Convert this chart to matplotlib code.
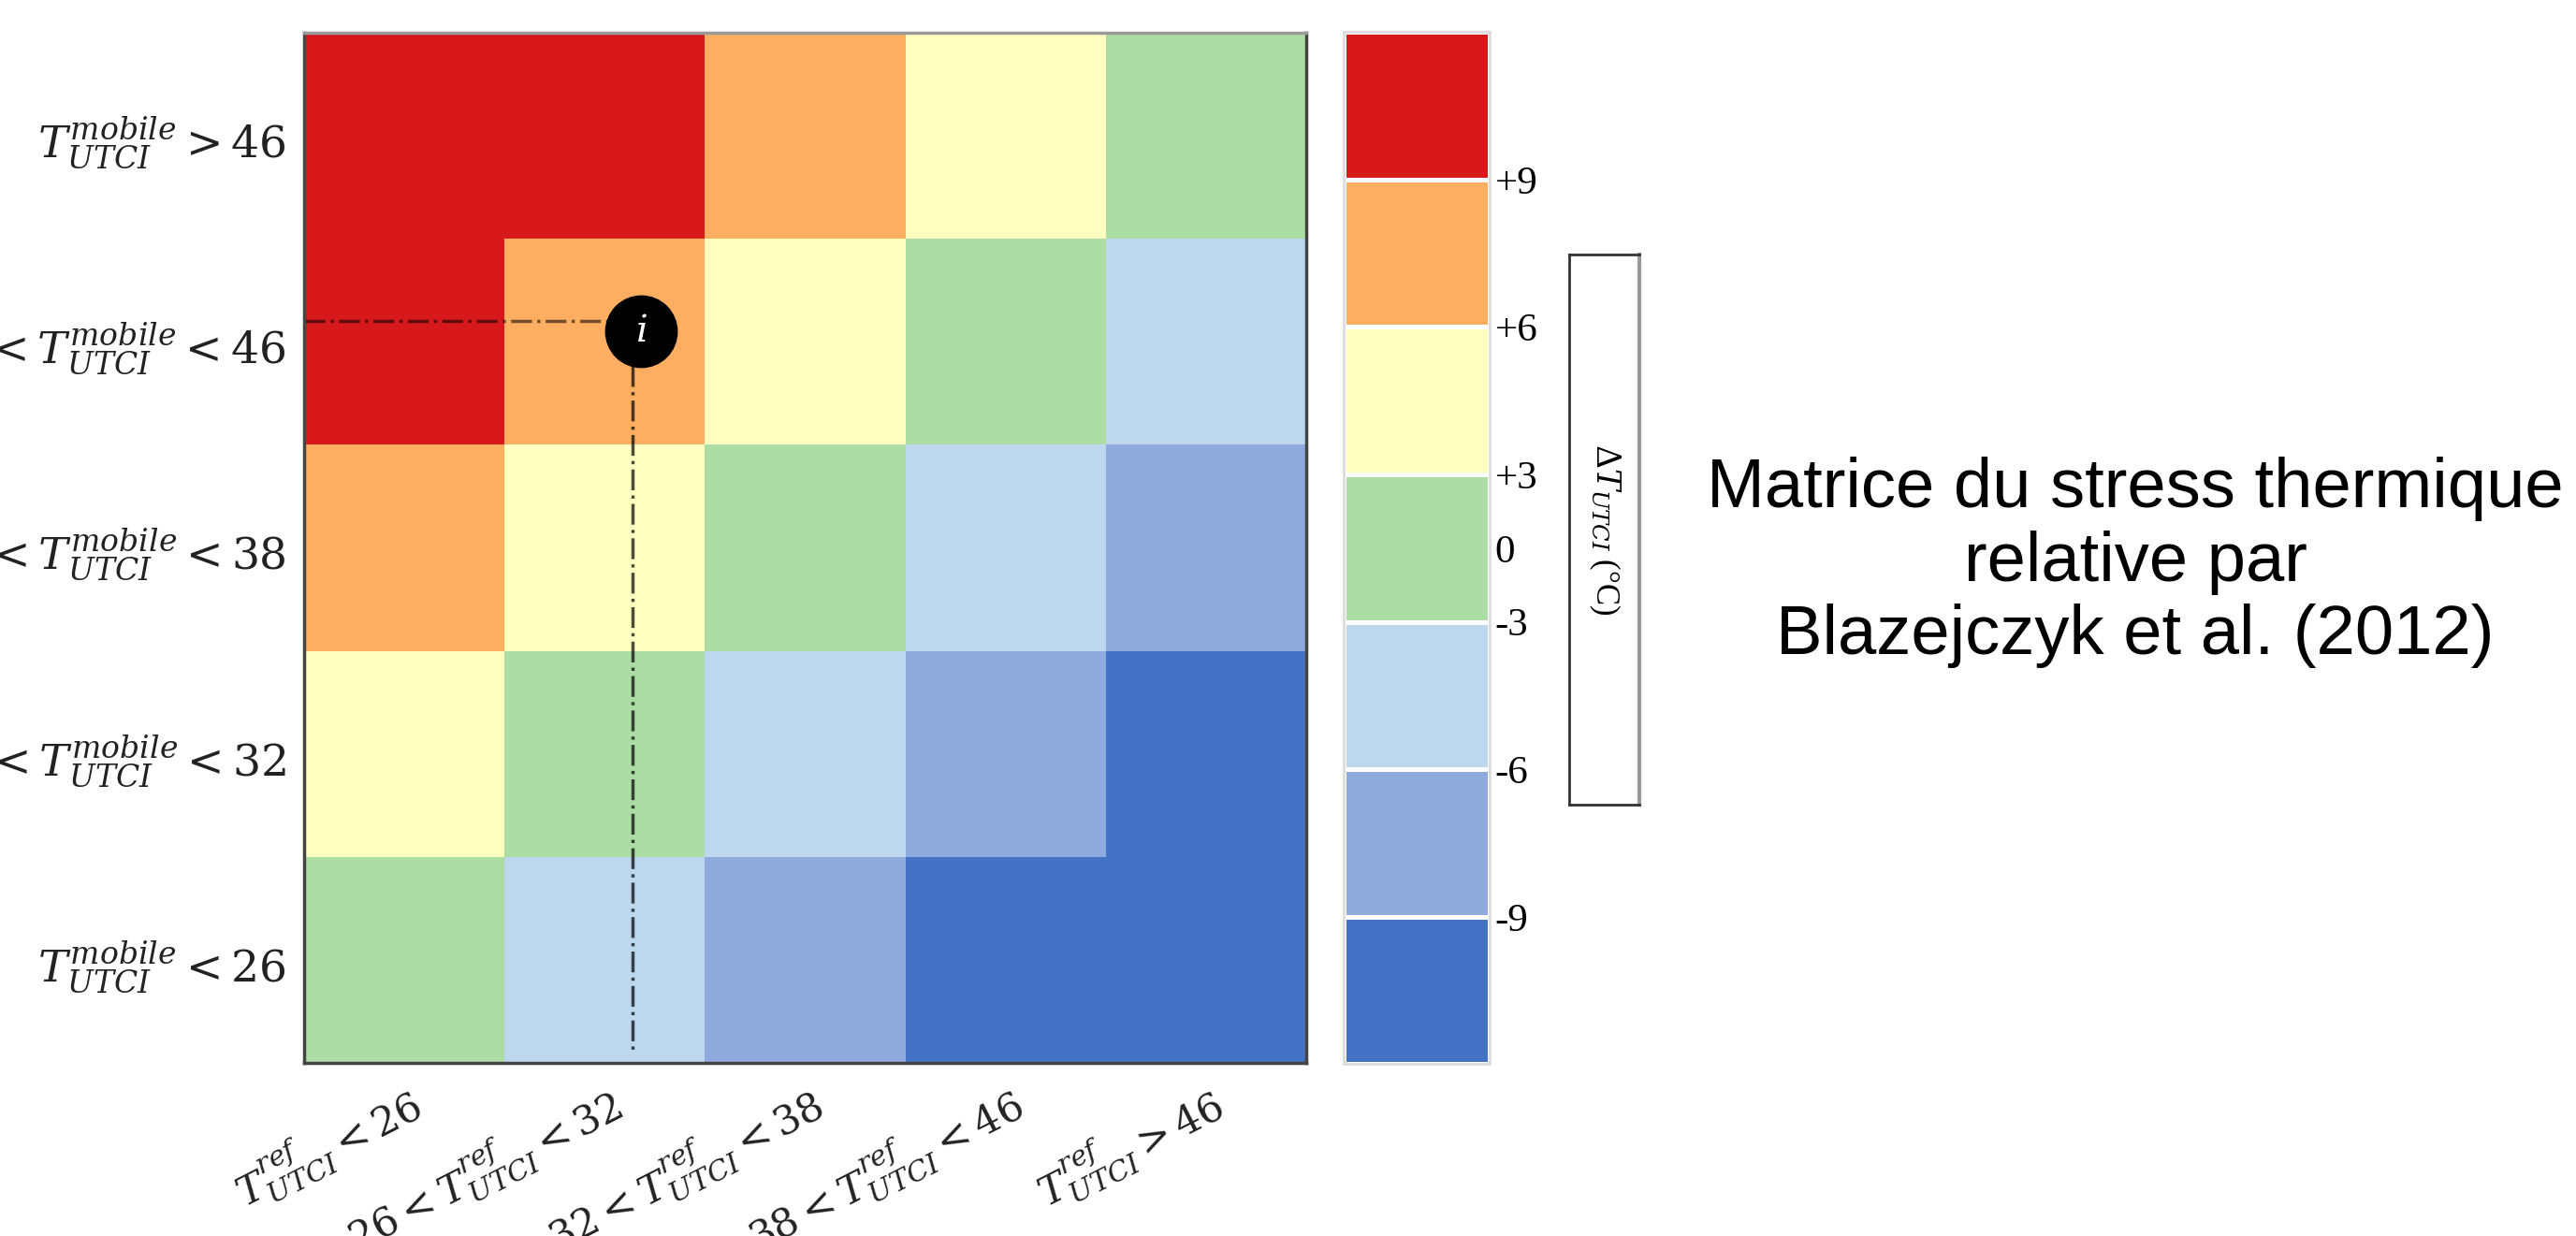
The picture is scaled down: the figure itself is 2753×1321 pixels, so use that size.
import numpy as np
import matplotlib
matplotlib.use('Agg')
import matplotlib.pyplot as plt
from matplotlib.colors import ListedColormap, BoundaryNorm

plt.rcParams['mathtext.fontset'] = 'dejavuserif'

# Classes of relative thermal stress (-3 .. +3), colours from cold to hot
class_colors = ['#4472C4', '#8FAADC', '#BDD7EE', '#ABDDA4', '#FFFFBF', '#FDAE61', '#D7191C']
class_values = [-3, -2, -1, 0, 1, 2, 3]

# rows: mobile classes (top -> bottom), cols: reference classes (left -> right)
mobile_labels = [r'$T_{UTCI}^{mobile} > 46$',
                 r'$38 < T_{UTCI}^{mobile} < 46$',
                 r'$32 < T_{UTCI}^{mobile} < 38$',
                 r'$26 < T_{UTCI}^{mobile} < 32$',
                 r'$T_{UTCI}^{mobile} < 26$']
ref_labels = [r'$T_{UTCI}^{ref} < 26$',
              r'$26 < T_{UTCI}^{ref} < 32$',
              r'$32 < T_{UTCI}^{ref} < 38$',
              r'$38 < T_{UTCI}^{ref} < 46$',
              r'$T_{UTCI}^{ref} > 46$']
matrix = [[3, 3, 2, 1, 0],
          [3, 2, 1, 0, -1],
          [2, 1, 0, -1, -2],
          [1, 0, -1, -2, -3],
          [0, -1, -2, -3, -3]]

# colourbar tick labels (positions on the 7-segment bar)
cbar_ticks = [1, 2, 3, 3.5, 4, 5, 6]
cbar_ticklabels = ['-9', '-6', '-3', '0', '+3', '+6', '+9']

# example point i
point_x, point_y = 1.68, 1.45
guide_x, guide_y = 1.64, 1.40

cmap = ListedColormap(class_colors)
norm = BoundaryNorm(np.arange(-3.5, 4.5, 1), cmap.N)

fig = plt.figure(figsize=(27.53, 13.21), dpi=100)

# --- matrix
ax = fig.add_axes([0.1181, 0.140, 0.389, 0.8335])
ax.pcolormesh(np.arange(6), np.arange(6), np.array(matrix), cmap=cmap, norm=norm)
ax.set_xlim(0, 5)
ax.set_ylim(5, 0)
ax.set_xticks(np.arange(5) + 0.5)
ax.set_yticks(np.arange(5) + 0.5)
ax.set_xticklabels(ref_labels, rotation=27, ha='right', va='top',
                   rotation_mode='anchor', fontsize=31, color='#222222')
ax.set_yticklabels(mobile_labels, fontsize=34, color='#222222')
ax.tick_params(axis='x', length=0, pad=10)
ax.tick_params(axis='y', length=0, pad=14)
for s in ax.spines.values():
    s.set_color('#444444')
    s.set_linewidth(2.5)
ax.spines['top'].set_color('#999999')

ax.plot([0, point_x], [guide_y, guide_y], linestyle='-.', color='black', alpha=0.55, lw=2.5)
ax.plot([guide_x, guide_x], [point_y, 4.95], linestyle='-.', color='black', alpha=0.7, lw=2.5)
ax.plot(point_x, point_y, 'o', color='black', markersize=55)
ax.text(point_x, point_y, '$i$', color='white', fontsize=29, ha='center', va='center')

# --- colour bar
cax = fig.add_axes([0.5216, 0.139, 0.0567, 0.835])
cax.pcolormesh([0, 1], np.arange(8), np.array(class_values).reshape(-1, 1),
               cmap=cmap, norm=norm, edgecolors='white', linewidth=2.5)
cax.set_xlim(0, 1)
cax.set_ylim(0, 7)
cax.set_xticks([])
cax.yaxis.tick_right()
cax.set_yticks(cbar_ticks)
cax.set_yticklabels(cbar_ticklabels, fontsize=31, family='Liberation Serif')
cax.tick_params(length=0, pad=4)
for s in cax.spines.values():
    s.set_color('#dddddd')
    s.set_linewidth(2)

# --- colour bar title box
bax = fig.add_axes([0.6092, 0.349, 0.0272, 0.445])
bax.set_xticks([])
bax.set_yticks([])
for s in bax.spines.values():
    s.set_color('#333333')
    s.set_linewidth(2)
bax.spines['right'].set_color('#999999')
bax.spines['right'].set_linewidth(3)
bax.text(0.5, 0.5, r'$\Delta T_{UTCI}$ (°C)', rotation=270, ha='center', va='center',
         fontsize=25, family='Liberation Serif', transform=bax.transAxes)

# --- caption
fig.text(0.829, 0.545, 'Matrice du stress thermique\nrelative par\nBlazejczyk et al. (2012)',
         ha='center', va='center', fontsize=53.5, family='Liberation Sans', linespacing=1.17)

fig.savefig('out.png', dpi=100)
